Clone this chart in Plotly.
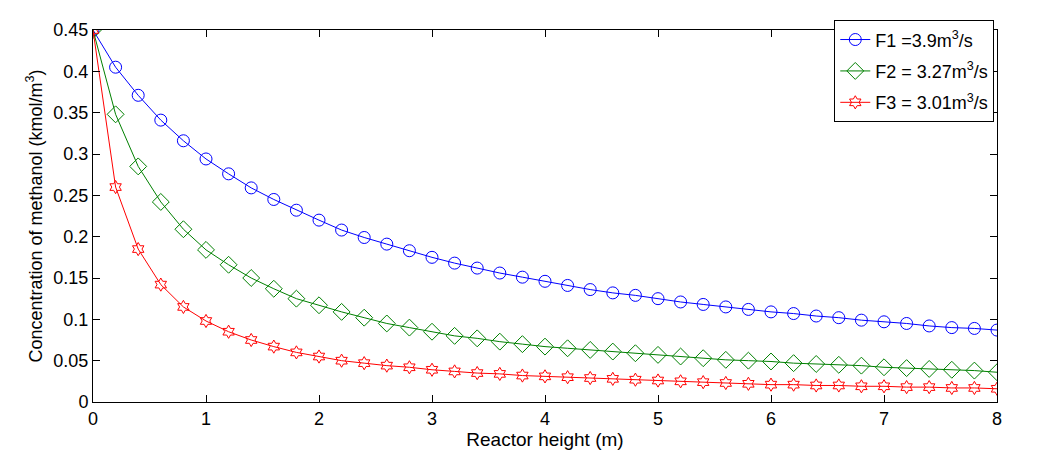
import plotly.graph_objects as go

# Reactor height (m), 0 to 8 in 0.2 m steps
height = [0.0, 0.2, 0.4, 0.6, 0.8, 1.0, 1.2, 1.4, 1.6, 1.8, 2.0, 2.2, 2.4, 2.6, 2.8, 3.0,
          3.2, 3.4, 3.6, 3.8, 4.0, 4.2, 4.4, 4.6, 4.8, 5.0, 5.2, 5.4, 5.6, 5.8, 6.0, 6.2,
          6.4, 6.6, 6.8, 7.0, 7.2, 7.4, 7.6, 7.8, 8.0]

# Concentration of methanol (kmol/m3) for each flow rate
conc_f1 = [0.450, 0.405, 0.371, 0.341, 0.316, 0.294, 0.276, 0.259, 0.245, 0.232, 0.220,
           0.208, 0.199, 0.191, 0.183, 0.175, 0.168, 0.162, 0.156, 0.151, 0.146, 0.141,
           0.136, 0.132, 0.129, 0.125, 0.121, 0.118, 0.115, 0.112, 0.109, 0.107, 0.104,
           0.102, 0.099, 0.097, 0.095, 0.092, 0.090, 0.089, 0.087]
conc_f2 = [0.450, 0.348, 0.285, 0.242, 0.209, 0.184, 0.166, 0.150, 0.137, 0.125, 0.117,
           0.109, 0.102, 0.095, 0.090, 0.085, 0.080, 0.077, 0.073, 0.070, 0.067, 0.065,
           0.063, 0.061, 0.059, 0.057, 0.055, 0.053, 0.051, 0.050, 0.049, 0.047, 0.046,
           0.045, 0.044, 0.042, 0.041, 0.040, 0.039, 0.038, 0.036]
conc_f3 = [0.450, 0.260, 0.185, 0.142, 0.115, 0.098, 0.085, 0.075, 0.067, 0.060, 0.055,
           0.050, 0.047, 0.044, 0.042, 0.039, 0.037, 0.035, 0.034, 0.032, 0.031, 0.030,
           0.029, 0.028, 0.027, 0.026, 0.025, 0.024, 0.023, 0.022, 0.021, 0.021, 0.020,
           0.020, 0.019, 0.019, 0.018, 0.018, 0.017, 0.017, 0.016]

series = [
    ("F1 =3.9m<sup>3</sup>/s", conc_f1, "#0000ff", "circle-open", 12),
    ("F2 = 3.27m<sup>3</sup>/s", conc_f2, "#008000", "diamond-open", 13),
    ("F3 = 3.01m<sup>3</sup>/s", conc_f3, "#ff0000", "hexagram-open", 10),
]

fig = go.Figure()
for idx, (name, values, color, symbol, size) in enumerate(series):
    fig.add_trace(
        go.Scatter(
            x=height,
            y=values,
            mode="lines+markers",
            name=name,
            legendgroup=f"g{idx}",  # separate groups so tracegroupgap spaces the entries
            line=dict(color=color, width=1),
            marker=dict(symbol=symbol, size=size, color=color, line=dict(color=color, width=1)),
        )
    )

axis_style = dict(
    showgrid=False,
    zeroline=False,
    showline=True,
    linecolor="black",
    linewidth=1,
    mirror="ticks",
    ticks="inside",
    ticklen=7,
    tickcolor="black",
    tickfont=dict(size=18, color="black"),
)

# the page body adds an 8px offset, so margins are shifted to land the plot area where it should be
fig.update_layout(
    width=1050,
    height=451,
    margin=dict(l=85, r=61, t=14, b=57),
    paper_bgcolor="white",
    plot_bgcolor="white",
    font=dict(family="Liberation Sans, Arial, sans-serif", color="black"),
    showlegend=True,
    legend=dict(
        x=0.82,
        y=1.026,
        xanchor="left",
        yanchor="top",
        bgcolor="white",
        bordercolor="black",
        borderwidth=1,
        font=dict(size=18),
        tracegroupgap=5,
    ),
    xaxis=dict(
        range=[0, 8],
        dtick=1,
        title=dict(text="Reactor height (m)", font=dict(size=19), standoff=5),
        **axis_style,
    ),
    yaxis=dict(
        range=[0, 0.45],
        dtick=0.05,
        title=dict(text="Concentration of methanol (kmol/m<sup>3</sup>)", font=dict(size=18), standoff=6),
        **axis_style,
    ),
)

fig.write_html("out.html")
